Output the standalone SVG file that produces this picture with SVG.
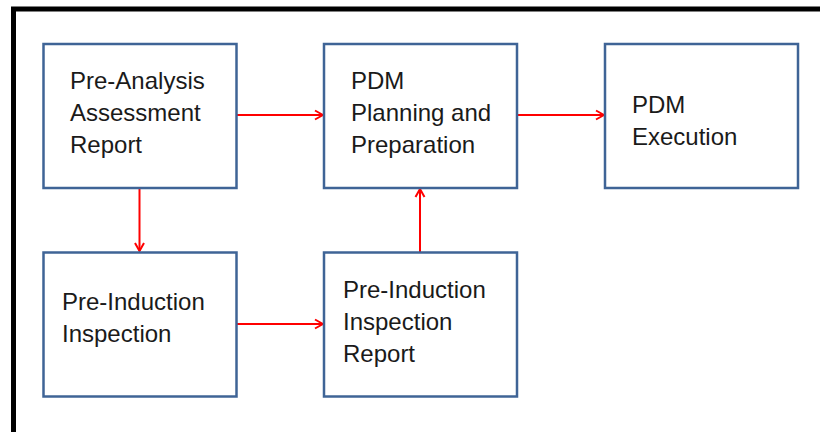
<svg xmlns="http://www.w3.org/2000/svg" width="820" height="432" viewBox="0 0 820 432">
  <style>
    .box { fill: #ffffff; stroke: #3f6496; stroke-width: 2.5; }
    .label { font-family: "Liberation Sans", Arial, sans-serif; font-size: 24px; fill: #1a1a1a; }
    .flow { stroke: #ff0000; stroke-width: 2; fill: none; marker-end: url(#chevron); }
  </style>
  <defs>
    <marker id="chevron" viewBox="0 0 12 12" refX="11" refY="6" markerWidth="12" markerHeight="12" markerUnits="userSpaceOnUse" orient="auto">
      <path d="M3,1.5 L11,6 L3,10.5" fill="none" stroke="#ff0000" stroke-width="2"/>
    </marker>
  </defs>

  <rect width="820" height="432" fill="#ffffff"/>
  <!-- outer frame, open to the right and bottom -->
  <path d="M13.5,432 V9 H820" fill="none" stroke="#000000" stroke-width="5"/>

  <g id="connectors">
    <line class="flow" x1="237" y1="115" x2="323" y2="115"/>
    <line class="flow" x1="518" y1="115" x2="604" y2="115"/>
    <line class="flow" x1="139.5" y1="188" x2="139.5" y2="251"/>
    <line class="flow" x1="237" y1="324" x2="323" y2="324"/>
    <line class="flow" x1="420" y1="252" x2="420" y2="189"/>
  </g>

  <g id="pre-analysis-assessment-report">
    <rect class="box" x="43.5" y="44" width="193" height="144"/>
    <text class="label" x="70" y="89">Pre-Analysis</text>
    <text class="label" x="70" y="121">Assessment</text>
    <text class="label" x="70" y="153">Report</text>
  </g>

  <g id="pdm-planning-and-preparation">
    <rect class="box" x="324" y="44" width="193" height="144"/>
    <text class="label" x="351" y="89">PDM</text>
    <text class="label" x="351" y="121">Planning and</text>
    <text class="label" x="351" y="153">Preparation</text>
  </g>

  <g id="pdm-execution">
    <rect class="box" x="605" y="44" width="193" height="144"/>
    <text class="label" x="632" y="113">PDM</text>
    <text class="label" x="632" y="145">Execution</text>
  </g>

  <g id="pre-induction-inspection">
    <rect class="box" x="43.5" y="252.5" width="193" height="144"/>
    <text class="label" x="62" y="310">Pre-Induction</text>
    <text class="label" x="62" y="342">Inspection</text>
  </g>

  <g id="pre-induction-inspection-report">
    <rect class="box" x="324" y="252.5" width="193" height="144"/>
    <text class="label" x="343" y="298">Pre-Induction</text>
    <text class="label" x="343" y="330">Inspection</text>
    <text class="label" x="343" y="362">Report</text>
  </g>
</svg>
